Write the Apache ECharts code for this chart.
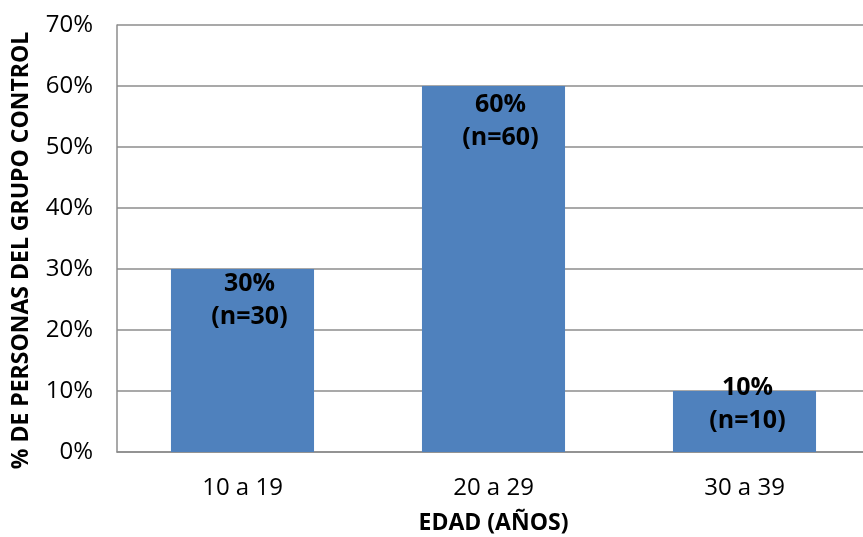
<!DOCTYPE html>
<html>
<head>
<meta charset="utf-8">
<script src="https://cdn.jsdelivr.net/npm/echarts@6/dist/echarts.min.js"></script>
<style>
  html, body { margin: 0; padding: 0; background: #fff; overflow: hidden; }
  #chart { width: 863px; height: 537px; }
</style>
</head>
<body>
<div id="chart"></div>
<script>
// Age groups of the control group
const categories = ['10 a 19', '20 a 29', '30 a 39'];
const percentValues = [30, 60, 10];
const counts = [30, 60, 10];
const yTicks = [0, 10, 20, 30, 40, 50, 60, 70];

const FONT = '"Open Sans", "Liberation Sans", sans-serif';

const chart = echarts.init(document.getElementById('chart'));

// per-bar label placement tweaks (the short bar's label rides over its top)
const labelDistance = [-2, 2, -20];
const labelShiftX = [7, 7, 3];

const seriesData = percentValues.map((v, i) => ({
  value: v,
  label: { distance: labelDistance[i], offset: [labelShiftX[i], 0] }
}));

chart.setOption({
  animation: false,
  grid: { left: 117, right: -7, top: 25, bottom: 85, outerBoundsMode: 'none', containLabel: false },
  xAxis: {
    type: 'category',
    data: categories,
    axisLine: { lineStyle: { color: '#8c8c8c', width: 1.5 } },
    axisTick: { show: false },
    axisLabel: { color: '#000', fontFamily: FONT, fontSize: 24, margin: 24 },
    name: 'EDAD (AÑOS)',
    nameLocation: 'middle',
    nameGap: 60,
    nameTextStyle: { color: '#000', fontFamily: FONT, fontSize: 23, fontWeight: 'bold' }
  },
  yAxis: {
    type: 'value',
    min: yTicks[0],
    max: yTicks[yTicks.length - 1],
    interval: 10,
    axisLine: { show: true, lineStyle: { color: '#8c8c8c', width: 1.5 } },
    axisTick: { show: false },
    splitLine: { lineStyle: { color: '#8c8c8c', width: 1.5 } },
    axisLabel: {
      color: '#000', fontFamily: FONT, fontSize: 24, margin: 24,
      formatter: v => v + '%'
    },
    name: '% DE PERSONAS DEL GRUPO CONTROL',
    nameLocation: 'middle',
    nameGap: 84,
    nameRotate: 90,
    nameTextStyle: { color: '#000', fontFamily: FONT, fontSize: 23, fontWeight: 'bold', padding: [0, 24, 0, 0] }
  },
  series: [{
    type: 'bar',
    data: seriesData,
    barWidth: '57%',
    itemStyle: { color: '#4F81BD' },
    label: {
      show: true,
      position: 'insideTop',
      color: '#000',
      fontFamily: FONT,
      fontSize: 25,
      fontWeight: 'bold',
      lineHeight: 33,
      formatter: p => p.value + '%\n(n=' + counts[p.dataIndex] + ')'
    }
  }]
});
</script>
</body>
</html>
